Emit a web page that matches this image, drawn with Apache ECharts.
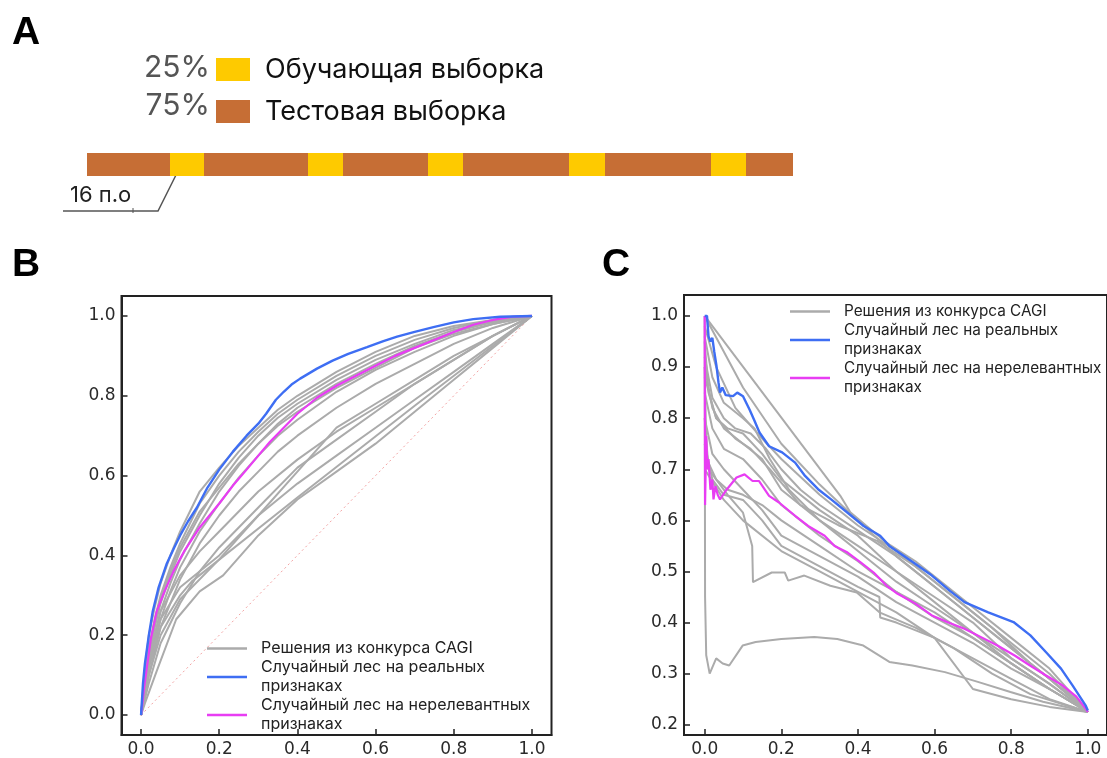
<!DOCTYPE html>
<html>
<head>
<meta charset="utf-8">
<script src="https://cdn.jsdelivr.net/npm/echarts@6/dist/echarts.min.js"></script>
<style>
  html, body { margin: 0; padding: 0; background: #fff; }
  #main { width: 1107px; height: 758px; }
</style>
</head>
<body>
<div id="main"></div>
<script>
// ---- panel A: split of the sequence (segment lengths along the bar) ----
const segLengths = [83, 34, 104, 35, 85, 35, 106, 36, 106, 35, 47];
const segKinds = ['test', 'train', 'test', 'train', 'test', 'train', 'test', 'train', 'test', 'train', 'test'];
const splitNames = { train: 'Обучающая выборка', test: 'Тестовая выборка' };
const splitShares = ['25%', '75%'];

// ---- panel B: ROC curves [fpr, tpr] ----
const rocBlue = [[0,0],[0.005,0.08],[0.01,0.13],[0.02,0.2],[0.03,0.26],[0.045,0.32],[0.066,0.38],[0.085,0.42],[0.1,0.45],[0.12,0.485],[0.143,0.52],[0.17,0.57],[0.2,0.615],[0.235,0.66],[0.27,0.7],[0.3,0.73],[0.32,0.755],[0.345,0.79],[0.365,0.81],[0.385,0.828],[0.407,0.843],[0.45,0.868],[0.49,0.888],[0.53,0.905],[0.578,0.922],[0.62,0.937],[0.655,0.948],[0.7,0.96],[0.748,0.972],[0.8,0.984],[0.85,0.992],[0.919,0.998],[1,1]];
const rocMagenta = [[0,0],[0.008,0.07],[0.015,0.12],[0.025,0.19],[0.04,0.26],[0.06,0.31],[0.083,0.36],[0.11,0.41],[0.13,0.44],[0.15,0.47],[0.175,0.5],[0.2,0.53],[0.235,0.575],[0.27,0.615],[0.3,0.65],[0.33,0.685],[0.36,0.715],[0.4,0.755],[0.45,0.795],[0.5,0.825],[0.55,0.85],[0.6,0.875],[0.65,0.9],[0.7,0.92],[0.75,0.94],[0.8,0.96],[0.85,0.978],[0.9,0.99],[0.95,0.998],[1,1]];
const roc01 = [[0,0],[0.01,0.12],[0.02,0.2],[0.035,0.27],[0.05,0.33],[0.075,0.4],[0.1,0.46],[0.15,0.56],[0.2,0.62],[0.25,0.675],[0.3,0.72],[0.35,0.765],[0.4,0.8],[0.5,0.86],[0.6,0.91],[0.7,0.95],[0.8,0.975],[0.9,0.99],[1,1]];
const roc02 = [[0,0],[0.01,0.1],[0.02,0.17],[0.035,0.24],[0.05,0.3],[0.075,0.37],[0.1,0.43],[0.15,0.53],[0.2,0.6],[0.25,0.66],[0.3,0.71],[0.35,0.755],[0.4,0.79],[0.5,0.85],[0.6,0.9],[0.7,0.94],[0.8,0.97],[0.9,0.99],[1,1]];
const roc03 = [[0,0],[0.01,0.09],[0.02,0.15],[0.035,0.22],[0.05,0.28],[0.075,0.35],[0.1,0.41],[0.15,0.5],[0.2,0.58],[0.25,0.645],[0.3,0.7],[0.35,0.745],[0.4,0.78],[0.5,0.84],[0.6,0.89],[0.7,0.93],[0.8,0.965],[0.9,0.985],[1,1]];
const roc04 = [[0,0],[0.01,0.07],[0.02,0.13],[0.035,0.2],[0.05,0.26],[0.075,0.33],[0.1,0.39],[0.15,0.48],[0.2,0.56],[0.25,0.625],[0.3,0.68],[0.35,0.73],[0.4,0.77],[0.5,0.83],[0.6,0.88],[0.7,0.925],[0.8,0.96],[0.9,0.985],[1,1]];
const roc05 = [[0,0],[0.01,0.06],[0.02,0.12],[0.035,0.18],[0.05,0.24],[0.075,0.31],[0.1,0.37],[0.15,0.46],[0.2,0.53],[0.25,0.595],[0.3,0.65],[0.35,0.7],[0.4,0.74],[0.5,0.81],[0.6,0.865],[0.7,0.91],[0.8,0.95],[0.9,0.98],[1,1]];
const roc06 = [[0,0],[0.01,0.05],[0.02,0.1],[0.035,0.16],[0.05,0.22],[0.075,0.28],[0.1,0.34],[0.15,0.43],[0.2,0.5],[0.25,0.56],[0.3,0.61],[0.35,0.66],[0.4,0.7],[0.5,0.77],[0.6,0.83],[0.7,0.88],[0.8,0.93],[0.9,0.97],[1,1]];
const roc07 = [[0,0],[0.02,0.1],[0.05,0.2],[0.1,0.29],[0.2,0.39],[0.3,0.5],[0.4,0.61],[0.5,0.72],[0.6,0.78],[0.7,0.84],[0.8,0.9],[0.9,0.95],[1,1]];
const roc08 = [[0,0],[0.02,0.08],[0.05,0.18],[0.1,0.28],[0.15,0.36],[0.2,0.42],[0.3,0.52],[0.4,0.62],[0.5,0.69],[0.6,0.76],[0.7,0.83],[0.8,0.89],[0.9,0.95],[1,1]];
const roc09 = [[0,0],[0.01,0.03],[0.04,0.11],[0.09,0.24],[0.15,0.31],[0.21,0.35],[0.3,0.45],[0.4,0.54],[0.5,0.61],[0.6,0.68],[0.7,0.76],[0.8,0.84],[0.9,0.92],[1,1]];
const roc10 = [[0,0],[0.02,0.12],[0.05,0.22],[0.1,0.3],[0.13,0.335],[0.4,0.545],[0.7,0.775],[1,1]];
const roc11 = [[0,0],[0.02,0.13],[0.05,0.24],[0.1,0.32],[0.2,0.4],[0.3,0.5],[0.4,0.58],[0.5,0.65],[0.6,0.72],[0.7,0.79],[0.8,0.86],[0.9,0.93],[1,1]];
const roc12 = [[0,0],[0.02,0.14],[0.05,0.26],[0.1,0.35],[0.15,0.41],[0.2,0.46],[0.3,0.56],[0.4,0.64],[0.5,0.71],[0.6,0.77],[0.7,0.83],[0.8,0.89],[0.9,0.95],[1,1]];
const roc13 = [[0,0],[0.01,0.09],[0.02,0.16],[0.035,0.23],[0.05,0.29],[0.075,0.36],[0.1,0.42],[0.15,0.51],[0.2,0.57],[0.25,0.63],[0.3,0.68],[0.35,0.725],[0.4,0.76],[0.5,0.82],[0.6,0.87],[0.7,0.92],[0.8,0.955],[0.9,0.98],[1,1]];
const rocCagi = [roc01, roc02, roc03, roc04, roc05, roc06, roc07, roc08, roc09, roc10, roc11, roc12, roc13];
const rocChance = [[0,0],[1,1]];

// ---- panel C: precision-recall curves [recall, precision] ----
const prBlue = [[0,1.0],[0.006,1.0],[0.01,0.96],[0.015,0.95],[0.02,0.957],[0.025,0.93],[0.031,0.901],[0.036,0.87],[0.04,0.85],[0.046,0.86],[0.055,0.845],[0.074,0.843],[0.085,0.85],[0.1,0.843],[0.117,0.817],[0.13,0.795],[0.143,0.772],[0.168,0.745],[0.202,0.733],[0.236,0.713],[0.262,0.687],[0.296,0.661],[0.33,0.641],[0.373,0.615],[0.415,0.589],[0.458,0.57],[0.482,0.55],[0.54,0.52],[0.593,0.492],[0.64,0.462],[0.678,0.44],[0.74,0.42],[0.806,0.401],[0.85,0.375],[0.891,0.342],[0.93,0.31],[0.96,0.277],[0.994,0.238],[1.0,0.228]];
const prMagenta = [[0,1.0],[0.001,0.63],[0.004,0.765],[0.007,0.7],[0.01,0.72],[0.015,0.66],[0.02,0.68],[0.023,0.641],[0.028,0.667],[0.034,0.65],[0.04,0.641],[0.057,0.66],[0.083,0.684],[0.104,0.69],[0.125,0.677],[0.142,0.677],[0.168,0.648],[0.194,0.635],[0.236,0.609],[0.27,0.589],[0.313,0.57],[0.339,0.55],[0.373,0.537],[0.407,0.518],[0.441,0.498],[0.475,0.472],[0.5,0.458],[0.55,0.437],[0.593,0.414],[0.636,0.4],[0.678,0.388],[0.72,0.372],[0.764,0.355],[0.81,0.335],[0.849,0.316],[0.89,0.297],[0.934,0.277],[0.97,0.255],[0.994,0.232],[1.0,0.225]];
const pr01 = [[0,1],[0.354,0.648],[0.38,0.616],[0.473,0.557],[0.55,0.52],[0.6,0.49],[0.7,0.43],[0.8,0.37],[0.9,0.31],[1,0.225]];
const pr02 = [[0,1],[0.05,0.93],[0.1,0.86],[0.2,0.75],[0.3,0.67],[0.4,0.6],[0.5,0.53],[0.6,0.47],[0.7,0.41],[0.8,0.35],[0.9,0.29],[1,0.225]];
const pr03 = [[0,0.98],[0.03,0.9],[0.08,0.82],[0.15,0.76],[0.2,0.72],[0.3,0.65],[0.4,0.59],[0.5,0.54],[0.6,0.48],[0.7,0.42],[0.8,0.36],[0.9,0.3],[1,0.225]];
const pr04 = [[0,0.95],[0.01,0.85],[0.03,0.8],[0.06,0.78],[0.1,0.77],[0.15,0.73],[0.2,0.68],[0.3,0.62],[0.4,0.57],[0.5,0.5],[0.6,0.45],[0.7,0.4],[0.8,0.33],[0.9,0.28],[1,0.225]];
const pr05 = [[0,0.9],[0.02,0.82],[0.05,0.78],[0.1,0.75],[0.15,0.72],[0.2,0.66],[0.3,0.6],[0.4,0.54],[0.5,0.48],[0.6,0.43],[0.7,0.38],[0.8,0.33],[0.9,0.28],[1,0.225]];
const pr06 = [[0,0.85],[0.02,0.78],[0.05,0.74],[0.1,0.72],[0.15,0.68],[0.2,0.63],[0.3,0.57],[0.4,0.52],[0.5,0.46],[0.6,0.41],[0.7,0.37],[0.8,0.32],[0.9,0.27],[1,0.225]];
const pr07 = [[0,0.8],[0.02,0.73],[0.05,0.7],[0.1,0.66],[0.15,0.62],[0.2,0.57],[0.3,0.53],[0.4,0.49],[0.5,0.44],[0.6,0.4],[0.7,0.36],[0.8,0.31],[0.9,0.27],[1,0.225]];
const pr08 = [[0,0.75],[0.02,0.68],[0.05,0.65],[0.1,0.64],[0.15,0.6],[0.2,0.55],[0.3,0.51],[0.4,0.47],[0.456,0.45],[0.458,0.41],[0.5,0.4],[0.6,0.37],[0.7,0.33],[0.8,0.29],[0.9,0.25],[1,0.225]];
const pr09 = [[0,0.9],[0.005,0.72],[0.03,0.68],[0.06,0.65],[0.1,0.615],[0.124,0.55],[0.126,0.479],[0.175,0.498],[0.209,0.498],[0.218,0.482],[0.26,0.492],[0.328,0.472],[0.397,0.459],[0.456,0.42],[0.55,0.39],[0.65,0.35],[0.75,0.3],[0.85,0.26],[1,0.225]];
const pr10 = [[0,1],[0.001,0.45],[0.004,0.336],[0.013,0.3],[0.03,0.33],[0.047,0.32],[0.064,0.316],[0.099,0.355],[0.133,0.362],[0.2,0.368],[0.286,0.372],[0.346,0.368],[0.414,0.355],[0.482,0.323],[0.542,0.316],[0.627,0.303],[0.713,0.284],[0.798,0.264],[0.883,0.245],[1,0.225]];
const pr11 = [[0,0.88],[0.03,0.8],[0.08,0.76],[0.12,0.74],[0.17,0.7],[0.25,0.63],[0.35,0.59],[0.45,0.56],[0.55,0.51],[0.65,0.45],[0.75,0.39],[0.85,0.32],[0.95,0.26],[1,0.225]];
const pr12 = [[0,0.7],[0.05,0.64],[0.1,0.6],[0.2,0.54],[0.3,0.5],[0.4,0.46],[0.5,0.42],[0.6,0.37],[0.7,0.27],[0.8,0.25],[0.9,0.235],[1,0.225]];
const pr13 = [[0,0.92],[0.02,0.84],[0.05,0.8],[0.08,0.78],[0.12,0.77],[0.16,0.74],[0.2,0.7],[0.25,0.66],[0.3,0.63],[0.4,0.58],[0.5,0.53],[0.6,0.47],[0.7,0.41],[0.8,0.35],[0.9,0.29],[1,0.225]];
const pr14 = [[0,0.8],[0.01,0.7],[0.03,0.68],[0.06,0.66],[0.1,0.65],[0.15,0.63],[0.2,0.6],[0.3,0.55],[0.4,0.5],[0.5,0.46],[0.6,0.42],[0.7,0.37],[0.8,0.32],[0.9,0.27],[1,0.225]];
const pr15 = [[0,0.96],[0.02,0.88],[0.05,0.83],[0.1,0.8],[0.13,0.78],[0.17,0.72],[0.22,0.66],[0.3,0.6],[0.4,0.55],[0.5,0.5],[0.6,0.44],[0.7,0.38],[0.8,0.32],[0.9,0.27],[1,0.225]];
const prCagi = [pr01, pr02, pr03, pr04, pr05, pr06, pr07, pr08, pr09, pr10, pr11, pr12, pr13, pr14, pr15];

// tick labels
const unitTicks = [0, 0.2, 0.4, 0.6, 0.8, 1.0];
const precTicks = [0.2, 0.3, 0.4, 0.5, 0.6, 0.7, 0.8, 0.9, 1.0];

const nameCagi = 'Решения из конкурса CAGI';
const nameReal = 'Случайный лес на реальных\nпризнаках';
const nameIrr = 'Случайный лес на нерелевантных\nпризнаках';

const colors = { train: '#FECA00', test: '#C66E35', gray: '#ababab', blue: '#3E6EF3', magenta: '#E83DF3', axis: '#222' };
const tickFont = { fontFamily: 'DejaVu Sans', fontSize: 17, color: '#2a2a2a' };

const chart = echarts.init(document.getElementById('main'), null, { renderer: 'canvas' });

function valueAxis(gridIndex, min, max, ticks) {
  return {
    type: 'value', gridIndex, min, max,
    axisLine: { show: true, onZero: false, lineStyle: { color: colors.axis, width: 2 } },
    axisTick: { show: true, inside: true, length: 6, customValues: ticks, lineStyle: { color: colors.axis, width: 1.5 } },
    axisLabel: Object.assign({ customValues: ticks, margin: 6, formatter: v => v.toFixed(1) }, tickFont),
    splitLine: { show: false }
  };
}

const series = [];
// panel A bar segments
segLengths.forEach((len, i) => {
  series.push({
    type: 'bar', name: splitNames[segKinds[i]], stack: 'seq',
    xAxisIndex: 0, yAxisIndex: 0, barWidth: '100%',
    itemStyle: { color: colors[segKinds[i]] },
    data: [len]
  });
});

function lineSeries(axisIdx, name, data, color, width, z) {
  return {
    type: 'line', name, data, xAxisIndex: axisIdx, yAxisIndex: axisIdx,
    showSymbol: false, symbol: 'none', color, z,
    lineStyle: { color, width }
  };
}

// panel B
series.push({
  type: 'line', name: 'chance', data: rocChance, xAxisIndex: 1, yAxisIndex: 1,
  showSymbol: false, symbol: 'none', z: 1,
  lineStyle: { color: '#f3a3a3', width: 1, type: [2, 3] }
});
rocCagi.forEach(c => series.push(lineSeries(1, nameCagi, c, colors.gray, 2, 2)));
series.push(lineSeries(1, nameIrr, rocMagenta, colors.magenta, 2.2, 3));
series.push(lineSeries(1, nameReal, rocBlue, colors.blue, 2.4, 4));

// panel C
prCagi.forEach(c => series.push(lineSeries(2, nameCagi, c, colors.gray, 2, 2)));
series.push(lineSeries(2, nameIrr, prMagenta, colors.magenta, 2.2, 3));
series.push(lineSeries(2, nameReal, prBlue, colors.blue, 2.4, 4));

const curveLegend = (left, top, fontSize) => ({
  data: [nameCagi, nameReal, nameIrr],
  orient: 'vertical', left, top, padding: 0,
  icon: 'rect', itemWidth: 40, itemHeight: 2.5, itemGap: 0,
  selectedMode: false,
  textStyle: { fontFamily: 'Inter', fontSize, color: '#222', lineHeight: 19, padding: [0, 0, 0, 9] }
});

chart.setOption({
  animation: false,
  backgroundColor: '#fff',
  grid: [
    { left: 87, top: 153, width: 706, height: 23 },
    { left: 121.5, top: 296, right: 555.5, bottom: 21, show: true, borderColor: colors.axis, borderWidth: 2 },
    { left: 684, top: 295, right: -8, bottom: 21, show: true, borderColor: colors.axis, borderWidth: 2 }
  ],
  xAxis: [
    { type: 'value', gridIndex: 0, min: 0, max: segLengths.reduce((a, b) => a + b, 0), show: false },
    valueAxis(1, -0.05, 1.05, unitTicks),
    valueAxis(2, -0.054, 1.05, unitTicks)
  ],
  yAxis: [
    { type: 'category', gridIndex: 0, data: ['seq'], show: false },
    valueAxis(1, -0.05, 1.05, unitTicks),
    valueAxis(2, 0.18, 1.041, precTicks)
  ],
  legend: [
    {
      data: [splitNames.train, splitNames.test],
      orient: 'vertical', left: 216, top: 56, padding: 0,
      icon: 'rect', itemWidth: 34, itemHeight: 23, itemGap: 15,
      selectedMode: false,
      textStyle: { fontFamily: 'Inter', fontSize: 27, color: '#111', padding: [0, 0, 0, 10] }
    },
    curveLegend(207, 639, 16),
    curveLegend(790, 302, 15.3)
  ],
  graphic: [
    { type: 'text', left: 12, top: 14, style: { text: 'A', font: 'bold 39px "Liberation Sans"', fill: '#000' } },
    { type: 'text', left: 12, top: 246, style: { text: 'B', font: 'bold 39px "Liberation Sans"', fill: '#000' } },
    { type: 'text', left: 602, top: 246, style: { text: 'C', font: 'bold 39px "Liberation Sans"', fill: '#000' } },
    { type: 'text', x: 210, y: 68, style: { text: splitShares[0], font: '30px Inter', fill: '#555', align: 'right', verticalAlign: 'middle' } },
    { type: 'text', x: 210, y: 106, style: { text: splitShares[1], font: '30px Inter', fill: '#555', align: 'right', verticalAlign: 'middle' } },
    { type: 'polyline', shape: { points: [[63, 211], [158, 211], [181, 165]] }, style: { stroke: '#555', lineWidth: 1.5, fill: null } },
    { type: 'line', shape: { x1: 133, y1: 208, x2: 133, y2: 213 }, style: { stroke: '#555', lineWidth: 1 } },
    { type: 'text', x: 70, y: 195, style: { text: '16 п.о', font: '22px Inter', fill: '#222', verticalAlign: 'middle' } }
  ],
  series
});
</script>
</body>
</html>
